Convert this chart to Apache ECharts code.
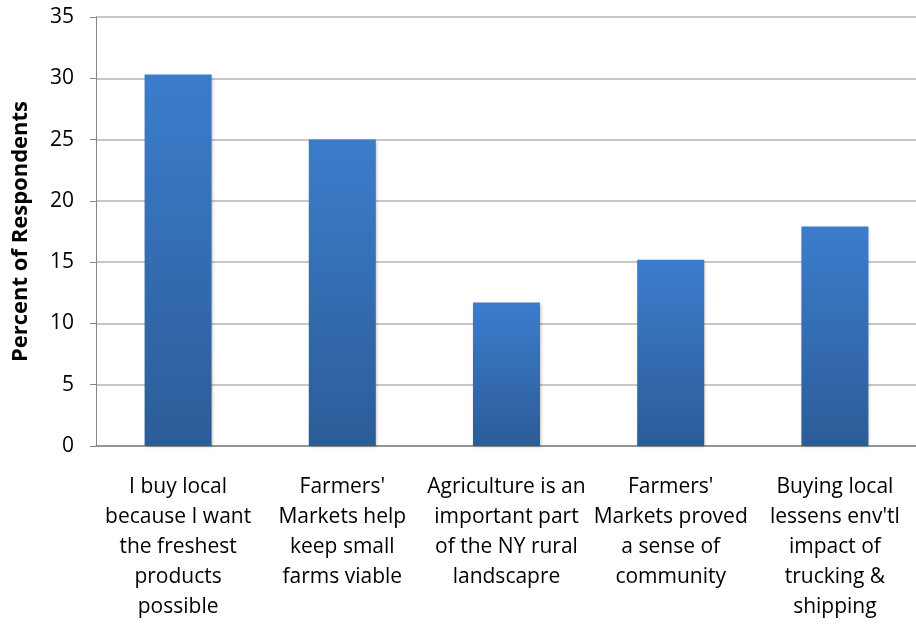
<!DOCTYPE html>
<html>
<head>
<meta charset="utf-8">
<script src="https://cdn.jsdelivr.net/npm/echarts@6/dist/echarts.min.js"></script>
<style>
  html, body { margin: 0; padding: 0; background: #fff; }
  #chart { width: 916px; height: 625px; }
</style>
</head>
<body>
<div id="chart"></div>
<script>
// Reasons respondents give for buying local (one line per array entry)
const categoryLines = [
  ['I buy local', 'because I want', 'the freshest', 'products', 'possible'],
  ["Farmers'", 'Markets help', 'keep small', 'farms viable'],
  ['Agriculture is an', 'important part', 'of the NY rural', 'landscapre'],
  ["Farmers'", 'Markets proved', 'a sense of', 'community'],
  ['Buying local', "lessens env'tl", 'impact of', 'trucking &', 'shipping']
];
const percentValues = [30.3, 25.0, 11.7, 15.2, 17.9];
const yTicks = { min: 0, max: 35, interval: 5 };
const yAxisTitle = 'Percent of Respondents';

const categories = categoryLines.map(lines => lines.join('\n'));
const fontFamily = '"Open Sans", Lato, sans-serif';

const chart = echarts.init(document.getElementById('chart'), null, { renderer: 'canvas' });
chart.setOption({
  animation: false,
  backgroundColor: '#ffffff',
  grid: {
    left: 96, right: -1, top: 17, bottom: 179,
    containLabel: false,
    outerBoundsMode: 'none'
  },
  xAxis: {
    type: 'category',
    data: categories,
    axisLine: { lineStyle: { color: '#868686', width: 1.5 } },
    axisTick: { show: false },
    axisLabel: {
      interval: 0,
      margin: 26,
      color: '#000',
      fontFamily,
      fontSize: 21,
      lineHeight: 30,
      align: 'center'
    }
  },
  yAxis: {
    type: 'value',
    min: yTicks.min,
    max: yTicks.max,
    interval: yTicks.interval,
    name: yAxisTitle,
    nameLocation: 'middle',
    nameGap: 64,
    nameRotate: 90,
    nameTextStyle: { color: '#000', fontFamily, fontSize: 22, fontWeight: 'bold' },
    axisLine: { show: true, lineStyle: { color: '#868686', width: 1 } },
    axisTick: { show: true, length: 6, inside: false, lineStyle: { color: '#868686' } },
    axisLabel: { color: '#000', fontFamily, fontSize: 21, margin: 22 },
    splitLine: { show: true, lineStyle: { color: '#b4b4b4', width: 1.5 } }
  },
  series: [{
    type: 'bar',
    data: percentValues,
    barWidth: 67,
    itemStyle: {
      color: new echarts.graphic.LinearGradient(0, 0, 0, 1, [
        { offset: 0, color: '#3b7dcc' },
        { offset: 1, color: '#2c5c98' }
      ]),
      shadowColor: 'rgba(0,0,0,0.25)',
      shadowBlur: 3,
      shadowOffsetX: 1,
      shadowOffsetY: 1
    }
  }]
});
</script>
</body>
</html>
